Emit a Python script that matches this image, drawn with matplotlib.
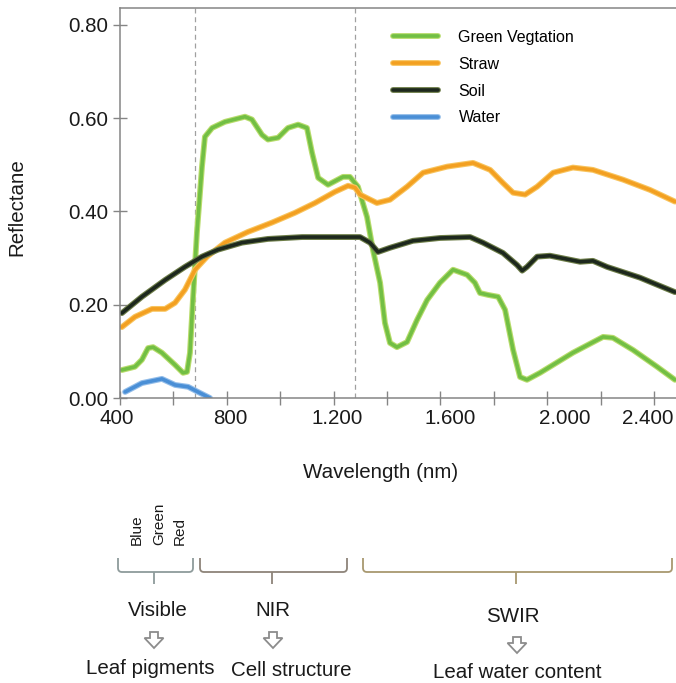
import matplotlib
matplotlib.use("Agg")
import matplotlib.pyplot as plt
import matplotlib.transforms as mtransforms
import matplotlib.patheffects as pe
from matplotlib.path import Path
from matplotlib.patches import PathPatch, Polygon
from matplotlib.ticker import FuncFormatter, MultipleLocator

plt.rcParams['font.family'] = ['Liberation Sans', 'DejaVu Sans']

# ---------------- data ----------------
green_wl = [407, 456, 482, 505, 524, 557, 606, 636, 651, 662, 673, 688, 707, 718, 745,
            793, 868, 894, 932, 954, 992, 1029, 1067, 1100, 1119, 1142, 1179, 1235, 1261,
            1291, 1325, 1347, 1374, 1392, 1411, 1437, 1475, 1512, 1550, 1598, 1647, 1700,
            1729, 1748, 1778, 1816, 1842, 1872, 1898, 1924, 1973, 2096, 2209, 2246, 2321,
            2411, 2478]
green_ref = [0.060, 0.067, 0.082, 0.107, 0.109, 0.097, 0.071, 0.054, 0.056, 0.097, 0.210,
             0.354, 0.496, 0.560, 0.579, 0.592, 0.603, 0.597, 0.564, 0.554, 0.558, 0.579,
             0.586, 0.579, 0.526, 0.472, 0.457, 0.474, 0.474, 0.453, 0.388, 0.318, 0.247,
             0.161, 0.118, 0.109, 0.120, 0.167, 0.210, 0.247, 0.275, 0.264, 0.247, 0.225,
             0.221, 0.217, 0.189, 0.103, 0.045, 0.039, 0.054, 0.097, 0.131, 0.129, 0.103,
             0.067, 0.039]

straw_wl = [407, 456, 520, 569, 606, 643, 681, 726, 793, 879, 969, 1055, 1130, 1205, 1254,
            1280, 1299, 1362, 1411, 1475, 1535, 1625, 1722, 1786, 1834, 1872, 1917, 1962,
            2022, 2096, 2171, 2284, 2385, 2478]
straw_ref = [0.152, 0.174, 0.191, 0.191, 0.204, 0.232, 0.275, 0.303, 0.333, 0.356, 0.376,
             0.397, 0.418, 0.442, 0.455, 0.451, 0.436, 0.418, 0.425, 0.453, 0.483, 0.496,
             0.504, 0.489, 0.461, 0.440, 0.436, 0.453, 0.483, 0.494, 0.489, 0.468, 0.446,
             0.421]

soil_wl = [407, 482, 569, 643, 707, 767, 857, 954, 1082, 1280, 1299, 1336, 1366, 1411, 1497,
           1598, 1711, 1759, 1834, 1887, 1906, 1924, 1962, 2010, 2123, 2171, 2224, 2347, 2478]
soil_ref = [0.182, 0.217, 0.253, 0.281, 0.303, 0.318, 0.333, 0.341, 0.345, 0.345, 0.345,
            0.333, 0.313, 0.322, 0.337, 0.343, 0.345, 0.333, 0.311, 0.285, 0.273, 0.281,
            0.303, 0.305, 0.292, 0.294, 0.281, 0.258, 0.227]

water_wl = [419, 482, 557, 606, 655, 692, 737]
water_ref = [0.013, 0.032, 0.041, 0.028, 0.024, 0.013, 0.000]

series_names = ['Green Vegtation', 'Straw', 'Soil', 'Water']
boundaries_nm = [680, 1280]

x_ticks = [400, 800, 1200, 1600, 2000, 2400]
y_ticks = [0.0, 0.2, 0.4, 0.6, 0.8]

bands = ['Blue', 'Green', 'Red']
regions = ['Visible', 'NIR', 'SWIR']
region_uses = ['Leaf pigments', 'Cell structure', 'Leaf water content']

# ---------------- figure ----------------
W, H = 676, 683
fig = plt.figure(figsize=(W / 100, H / 100), dpi=100)
PX = mtransforms.Affine2D().scale(1 / W, -1 / H).translate(0, 1) + fig.transFigure

ax_l, ax_r, ax_t, ax_b = 120, 676, 8, 398
ax = fig.add_axes([ax_l / W, 1 - ax_b / H, (ax_r - ax_l) / W, (ax_b - ax_t) / H])

spine_c = '#858585'
for s in ['left', 'top', 'bottom']:
    ax.spines[s].set_color(spine_c)
    ax.spines[s].set_linewidth(1.1)
ax.spines['right'].set_visible(False)

styles = [
    dict(color='#72bf44', edge='#b8dc6c'),
    dict(color='#f3a021', edge='#f8c45e'),
    dict(color='#1d281d', edge='#6d7d48'),
    dict(color='#4a8fd6', edge='#93bde9'),
]
datas = [(green_wl, green_ref), (straw_wl, straw_ref), (soil_wl, soil_ref), (water_wl, water_ref)]
for (xs, ys), st, name in zip(datas, styles, series_names):
    ax.plot(xs, ys, color=st['color'], lw=2.6, label=name, solid_joinstyle='round',
            solid_capstyle='round',
            path_effects=[pe.Stroke(linewidth=4.2, foreground=st['edge']), pe.Normal()])

for b in boundaries_nm:
    ax.axvline(b, color='#a0a0a0', lw=0.9, ls=(0, (4, 3)), zorder=0)

ax.set_xlim(400, 2482)
ax.set_ylim(0, 0.836)
ax.set_xticks(x_ticks)
ax.xaxis.set_minor_locator(MultipleLocator(200))
ax.set_yticks(y_ticks)
ax.xaxis.set_major_formatter(FuncFormatter(
    lambda v, p: f"{int(v):,}".replace(',', '.')))
ax.yaxis.set_major_formatter(FuncFormatter(lambda v, p: f"{v:.2f}"))
ax.tick_params(axis='both', which='both', direction='inout', length=10, width=1.0,
               color=spine_c, labelsize=14.8, labelcolor='#1a1a1a')
ax.tick_params(axis='y', pad=3.5)
ax.tick_params(axis='x', pad=3)

# small horizontal nudges of x tick labels, as placed in the reference (pixels)
label_nudge_px = [-3, 3, 4, 10, 17, -6]
for lbl, dx in zip(ax.get_xticklabels(), label_nudge_px):
    lbl.set_transform(lbl.get_transform() +
                      mtransforms.ScaledTranslation(dx / 100, 0, fig.dpi_scale_trans))

ax.set_ylabel('Reflectane', fontsize=14.8, color='#1a1a1a', ha='center', va='center')
ax.yaxis.set_label_coords(-(120 - 17) / 556, 0.49)
ax.set_xlabel('Wavelength (nm)', fontsize=14.8, color='#1a1a1a', ha='center', va='center')
ax.xaxis.set_label_coords((381 - 120) / 556, -(472 - 398) / 390)

leg = ax.legend(loc='upper left', bbox_to_anchor=(393 / W, 1 - 30 / H),
                bbox_transform=fig.transFigure, frameon=False, fontsize=11.5,
                handlelength=2.8, handletextpad=1.3, labelspacing=0.74,
                borderpad=0, borderaxespad=0)

# ---------------- bottom annotations ----------------
txt_c = '#1a1a1a'
for name, x in zip(bands, [137, 159, 180]):
    fig.text(x, 545, name, transform=PX, rotation=90, ha='center', va='bottom',
             fontsize=11, color=txt_c)

brackets = [(118, 193, 154, '#8e9b9b'), (200, 347, 272, '#8d8479'), (363, 672, 516, '#a89870')]
top_y, hy, stem_y = 558, 572, 584
r = 4
for L, R, c, col in brackets:
    verts = [(L, top_y), (L, hy - r), (L, hy), (L + r, hy), (R - r, hy), (R, hy), (R, hy - r),
             (R, top_y), (c, hy), (c, stem_y)]
    codes = [Path.MOVETO, Path.LINETO, Path.CURVE3, Path.CURVE3, Path.LINETO, Path.CURVE3,
             Path.CURVE3, Path.LINETO, Path.MOVETO, Path.LINETO]
    fig.add_artist(PathPatch(Path(verts, codes), transform=PX, fill=False, edgecolor=col,
                             lw=1.3))

region_x = [158, 273, 513]
region_y = [610, 610, 617]
for name, x, y in zip(regions, region_x, region_y):
    fig.text(x, y, name, transform=PX, ha='center', va='center', fontsize=14.8, color=txt_c)

arrow_x = [154, 273, 517]
arrow_y = [632, 632, 637]
for cx, ty in zip(arrow_x, arrow_y):
    pts = [(cx - 4, ty), (cx + 4, ty), (cx + 4, ty + 6), (cx + 9.5, ty + 6), (cx, ty + 16),
           (cx - 9.5, ty + 6), (cx - 4, ty + 6)]
    fig.add_artist(Polygon(pts, closed=True, transform=PX, facecolor='white',
                           edgecolor='#8c8c8c', lw=1.3, joinstyle='miter'))

use_x = [150, 291, 517]
use_y = [668, 670, 673]
for name, x, y in zip(region_uses, use_x, use_y):
    fig.text(x, y, name, transform=PX, ha='center', va='center', fontsize=14.8, color=txt_c)

fig.savefig('out.png', dpi=100)
